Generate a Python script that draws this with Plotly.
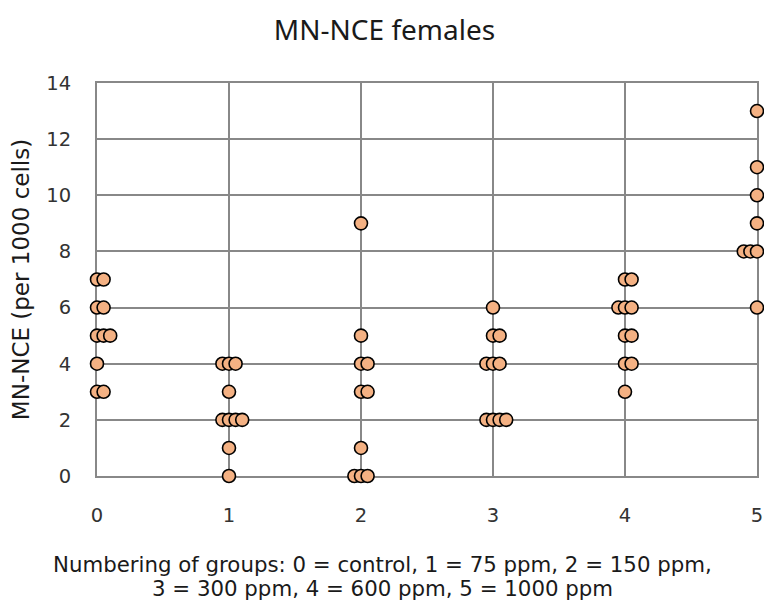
import plotly.graph_objects as go

# Group number (with the small horizontal jitter used to separate tied values) and MN-NCE values
x_group0 = [0, 0.05, 0, 0.05, 0, 0.05, 0.1, 0, 0, 0.05]
y_group0 = [7, 7, 6, 6, 5, 5, 5, 4, 3, 3]

x_group1 = [0.95, 1.0, 1.05, 1.0, 0.95, 1.0, 1.05, 1.1, 1.0, 1.0]
y_group1 = [4, 4, 4, 3, 2, 2, 2, 2, 1, 0]

x_group2 = [2.0, 2.0, 2.0, 2.05, 2.0, 2.05, 2.0, 1.95, 2.0, 2.05]
y_group2 = [9, 5, 4, 4, 3, 3, 1, 0, 0, 0]

x_group3 = [3.0, 3.0, 3.05, 2.95, 3.0, 3.05, 2.95, 3.0, 3.05, 3.1]
y_group3 = [6, 5, 5, 4, 4, 4, 2, 2, 2, 2]

x_group4 = [4.0, 4.05, 3.95, 4.0, 4.05, 4.0, 4.05, 4.0, 4.05, 4.0]
y_group4 = [7, 7, 6, 6, 6, 5, 5, 4, 4, 3]

x_group5 = [5, 5, 5, 5, 4.9, 4.95, 5, 5]
y_group5 = [13, 11, 10, 9, 8, 8, 8, 6]

x_ticks = [0, 1, 2, 3, 4, 5]
y_ticks = [0, 2, 4, 6, 8, 10, 12, 14]

title_text = "MN-NCE females"
y_title = "MN-NCE (per 1000 cells)"
x_note_lines = ["Numbering of groups: 0 = control, 1 = 75 ppm, 2 = 150 ppm,",
                "3 = 300 ppm, 4 = 600 ppm, 5 = 1000 ppm"]

xs = x_group0 + x_group1 + x_group2 + x_group3 + x_group4 + x_group5
ys = y_group0 + y_group1 + y_group2 + y_group3 + y_group4 + y_group5

# The page body adds an 8 px offset, so the figure is 8 px smaller than the window
W, H = 764, 593
L, R, T, B = 87.5, 8.5, 75, 125
plot_w, plot_h = W - L - R, H - T - B

fig = go.Figure()
fig.add_trace(go.Scatter(
    x=xs, y=ys, mode="markers", cliponaxis=False,
    marker=dict(size=13, color="#F4B183", line=dict(color="#000000", width=1.6)),
    showlegend=False,
))

grid = "#888888"
tick_font = dict(family="DejaVu Sans", size=19.5, color="#333333")

fig.update_layout(
    width=W, height=H,
    paper_bgcolor="white", plot_bgcolor="white",
    margin=dict(l=L, r=R, t=T, b=B),
    title=dict(text=title_text, x=(384.5 - 8) / W, xref="container", xanchor="center",
               y=1 - (30 - 8) / H, yanchor="middle",
               font=dict(family="Noto Sans", size=28, color="#1a1a1a")),
    font=dict(family="DejaVu Sans"),
)
fig.update_xaxes(
    range=[0, 5], tickvals=x_ticks, showgrid=True, gridcolor=grid, gridwidth=2,
    zeroline=False, showline=True, linecolor=grid, linewidth=2, mirror=True,
    tickfont=tick_font, ticklabelstandoff=21, layer="below traces",
)
fig.update_yaxes(
    range=[0, 14], tickvals=y_ticks, showgrid=True, gridcolor=grid, gridwidth=2,
    zeroline=False, showline=True, linecolor=grid, linewidth=2, mirror=True,
    tickfont=tick_font, ticklabelstandoff=20, layer="below traces",
    title=dict(text=y_title, font=dict(family="DejaVu Sans", size=23, color="#1a1a1a"),
               standoff=14),
)
for line, yc in zip(x_note_lines, [564, 588]):
    fig.add_annotation(
        text=line, xref="paper", yref="paper",
        x=(384.5 - 8 - L) / plot_w, y=-((yc - 8) - (T + plot_h)) / plot_h,
        xanchor="center", yanchor="middle", showarrow=False,
        font=dict(family="DejaVu Sans", size=21.3, color="#1a1a1a"),
    )

fig.write_html("out.html")
